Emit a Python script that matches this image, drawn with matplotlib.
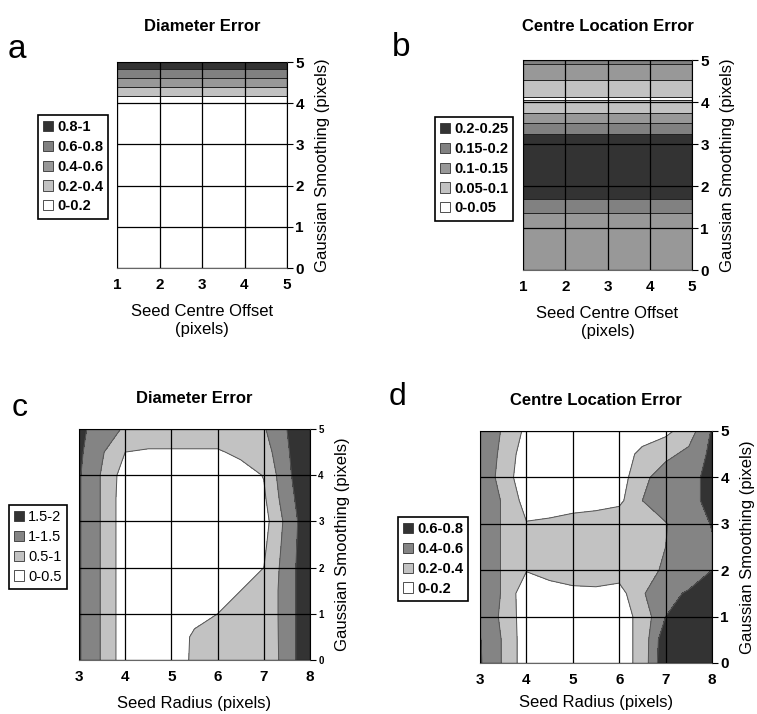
import numpy as np
import matplotlib
matplotlib.use("Agg")
import matplotlib.pyplot as plt
from matplotlib.patches import Patch

plt.rcParams['font.family'] = ['Liberation Sans', 'DejaVu Sans']

W, H = 757, 714

# ---- panel a / b : error vs seed centre offset and smoothing (depends on smoothing only)
offset = [1, 2, 3, 4, 5]
smooth_a = [0, 1, 2, 3, 4, 5]
diam_err_a = [0.05, 0.05, 0.05, 0.05, 0.05, 0.95]

smooth_b = [0, 1, 1.35, 1.7, 2, 3, 3.25, 3.49, 3.73, 4.05, 4.09, 4.13, 4.52, 4.9, 5]
centre_err_b = [0.12, 0.125, 0.15, 0.2, 0.22, 0.22, 0.2, 0.15, 0.1, 0.05, 0.04, 0.05, 0.1, 0.15, 0.16]

# ---- panel c / d : error vs seed radius and smoothing
radius = [3, 3.5, 4, 4.5, 5, 5.5, 6, 6.5, 7, 7.5, 8]
smooth_cd = [0, 0.5, 1, 1.5, 2, 2.5, 3, 3.5, 4, 4.5, 5]

diam_err_c = [
    [1.55, 0.95, 0.2, 0.2, 0.2, 0.6, 0.65, 0.65, 0.55, 1.25, 1.9],
    [1.55, 0.95, 0.2, 0.2, 0.2, 0.58, 0.62, 0.65, 0.58, 1.25, 1.9],
    [1.55, 0.95, 0.2, 0.2, 0.2, 0.35, 0.5, 0.6, 0.6, 1.25, 1.9],
    [1.55, 0.95, 0.2, 0.2, 0.2, 0.2, 0.35, 0.5, 0.6, 1.25, 1.9],
    [1.55, 0.95, 0.2, 0.2, 0.2, 0.2, 0.2, 0.3, 0.5, 1.25, 1.9],
    [1.55, 0.95, 0.2, 0.2, 0.2, 0.2, 0.2, 0.2, 0.4, 1.2, 1.9],
    [1.55, 0.95, 0.2, 0.2, 0.2, 0.2, 0.2, 0.2, 0.3, 1.15, 1.9],
    [1.55, 0.95, 0.2, 0.2, 0.2, 0.2, 0.2, 0.2, 0.42, 1.3, 1.9],
    [1.55, 0.95, 0.25, 0.2, 0.2, 0.2, 0.2, 0.3, 0.52, 1.4, 1.9],
    [1.6, 1.05, 0.5, 0.45, 0.45, 0.45, 0.45, 0.6, 0.75, 1.45, 1.9],
    [1.65, 1.2, 0.95, 0.8, 0.8, 0.8, 0.8, 0.8, 0.95, 1.5, 1.9],
]

centre_err_d = [
    [0.62, 0.38, 0.08, 0.05, 0.05, 0.05, 0.10, 0.27, 0.78, 0.78, 0.80],
    [0.61, 0.38, 0.08, 0.05, 0.05, 0.05, 0.10, 0.27, 0.75, 0.76, 0.78],
    [0.55, 0.36, 0.08, 0.05, 0.05, 0.05, 0.10, 0.27, 0.60, 0.70, 0.75],
    [0.55, 0.38, 0.05, 0.10, 0.15, 0.16, 0.12, 0.38, 0.55, 0.62, 0.70],
    [0.55, 0.38, 0.21, 0.28, 0.30, 0.30, 0.30, 0.35, 0.42, 0.50, 0.60],
    [0.55, 0.38, 0.28, 0.30, 0.30, 0.30, 0.32, 0.35, 0.40, 0.50, 0.58],
    [0.55, 0.38, 0.21, 0.25, 0.30, 0.33, 0.35, 0.36, 0.39, 0.50, 0.61],
    [0.55, 0.38, 0.12, 0.05, 0.08, 0.10, 0.15, 0.40, 0.50, 0.55, 0.65],
    [0.55, 0.32, 0.05, 0.05, 0.05, 0.05, 0.10, 0.35, 0.50, 0.55, 0.65],
    [0.55, 0.35, 0.08, 0.05, 0.05, 0.05, 0.10, 0.25, 0.35, 0.45, 0.65],
    [0.55, 0.38, 0.155, 0.05, 0.05, 0.05, 0.10, 0.10, 0.15, 0.30, 0.62],
]

levels_a = [0, 0.2, 0.4, 0.6, 0.8, 1.0]
labels_a = ['0-0.2', '0.2-0.4', '0.4-0.6', '0.6-0.8', '0.8-1']
levels_b = [0, 0.05, 0.1, 0.15, 0.2, 0.25]
labels_b = ['0-0.05', '0.05-0.1', '0.1-0.15', '0.15-0.2', '0.2-0.25']
levels_c = [0, 0.5, 1.0, 1.5, 2.0]
labels_c = ['0-0.5', '0.5-1', '1-1.5', '1.5-2']
levels_d = [0, 0.2, 0.4, 0.6, 0.8]
labels_d = ['0-0.2', '0.2-0.4', '0.4-0.6', '0.6-0.8']

greys5 = ['#ffffff', '#c2c2c2', '#989898', '#818181', '#333333']
greys4 = ['#ffffff', '#c2c2c2', '#848484', '#333333']


def px_axes(l, r, t, b):
    return [l / W, 1 - b / H, (r - l) / W, (b - t) / H]


def draw_panel(ax, x, y, z, levels, colors, xticks, yticks, lcol, ytsize):
    X, Y = np.meshgrid(x, y)
    ax.contourf(X, Y, z, levels=levels, colors=colors, zorder=1)
    ax.contour(X, Y, z, levels=levels[1:-1], colors=lcol, linewidths=0.7, zorder=2)
    ax.set_xlim(x[0], x[-1])
    ax.set_ylim(0, 5)
    ax.set_xticks(xticks)
    ax.set_yticks(yticks)
    ax.grid(True, color='black', linewidth=0.9)
    ax.set_axisbelow(False)
    ax.yaxis.tick_right()
    ax.yaxis.set_label_position('right')
    ax.tick_params(axis='x', length=0, pad=7, labelsize=11)
    ax.tick_params(axis='y', length=4, width=0.8, direction='out', pad=2, labelsize=ytsize)
    for lab in ax.get_xticklabels() + ax.get_yticklabels():
        lab.set_fontweight('bold')
    for s in ax.spines.values():
        s.set_color('#666666')
        s.set_linewidth(0.8)
    ax.spines['right'].set_color('black')
    ax.set_ylabel('Gaussian Smoothing (pixels)', fontsize=12, labelpad=8)


def add_legend(fig, labels, colors, x0, y0, bold):
    handles = [Patch(facecolor=c, edgecolor='#333333', linewidth=0.6)
               for c in colors]
    leg = fig.legend(handles[::-1], labels[::-1], loc='upper left',
                     bbox_to_anchor=(x0 / W, 1 - y0 / H), borderaxespad=0,
                     handlelength=0.7, handleheight=0.7, handletextpad=0.25,
                     labelspacing=0.4, borderpad=0.35, fancybox=False,
                     framealpha=1, edgecolor='black',
                     prop={'size': 10.5, 'weight': 'bold' if bold else 'normal'})
    leg.get_frame().set_linewidth(1.2)


fig = plt.figure(figsize=(W / 100, H / 100), dpi=100)

# a
za = np.tile(np.array(diam_err_a)[:, None], (1, len(offset)))
ax_a = fig.add_axes(px_axes(117, 287, 62, 268))
draw_panel(ax_a, offset, smooth_a, za, levels_a, greys5, offset, range(6), '#222222', 11)
ax_a.set_xlabel('Seed Centre Offset\n(pixels)', fontsize=12, labelpad=9)
ax_a.set_title('Diameter Error', fontsize=12, fontweight='bold', pad=22)
add_legend(fig, labels_a, greys5, 38, 115, True)
fig.text(8 / W, 1 - 50 / H, 'a', fontsize=24, va='center')

# b
zb = np.tile(np.array(centre_err_b)[:, None], (1, len(offset)))
ax_b = fig.add_axes(px_axes(523, 692, 60, 270))
draw_panel(ax_b, offset, smooth_b, zb, levels_b, greys5, offset, range(6), '#222222', 11)
ax_b.set_xlabel('Seed Centre Offset\n(pixels)', fontsize=12, labelpad=9)
ax_b.set_title('Centre Location Error', fontsize=12, fontweight='bold', pad=21)
add_legend(fig, labels_b, greys5, 435, 117, True)
fig.text(392 / W, 1 - 47 / H, 'b', fontsize=24, va='center')

# c
ax_c = fig.add_axes(px_axes(79, 310, 429, 660))
draw_panel(ax_c, radius, smooth_cd, np.array(diam_err_c), levels_c, greys4,
           range(3, 9), range(6), '#555555', 7)
ax_c.set_xlabel('Seed Radius (pixels)', fontsize=12, labelpad=9)
ax_c.set_title('Diameter Error', fontsize=12, fontweight='bold', pad=19)
add_legend(fig, labels_c, greys4, 9, 505, False)
fig.text(12 / W, 1 - 408 / H, 'c', fontsize=23, va='center')

# d
ax_d = fig.add_axes(px_axes(480, 712, 431, 663))
draw_panel(ax_d, radius, smooth_cd, np.array(centre_err_d), levels_d, greys4,
           range(3, 9), range(6), '#555555', 11)
ax_d.set_xlabel('Seed Radius (pixels)', fontsize=12, labelpad=6)
ax_d.set_title('Centre Location Error', fontsize=12, fontweight='bold', pad=19)
add_legend(fig, labels_d, greys4, 398, 517, True)
fig.text(389 / W, 1 - 397 / H, 'd', fontsize=23, va='center')

fig.savefig('out.png', dpi=100)
